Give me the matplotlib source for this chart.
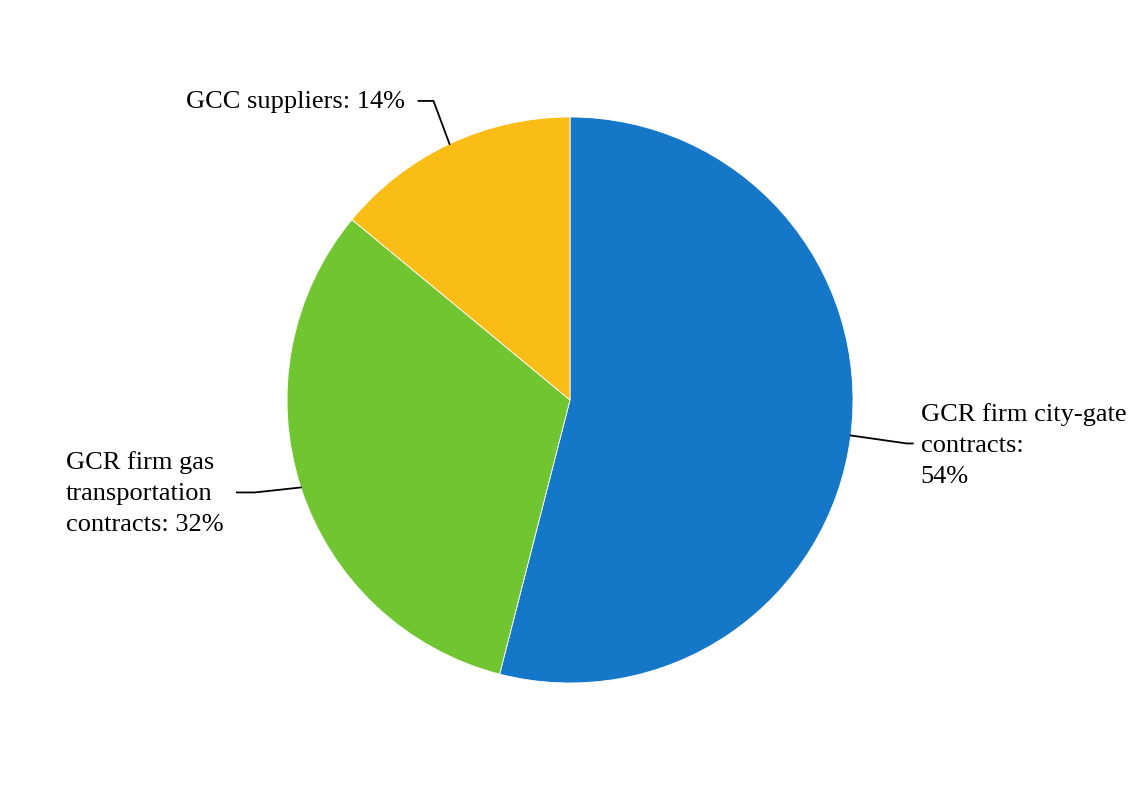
import numpy as np
import matplotlib
matplotlib.use('Agg')
import matplotlib.pyplot as plt

plt.rcParams['font.family'] = 'Liberation Serif'

# data
labels = ['GCR firm city-gate\ncontracts:\n54%',
          'GCR firm gas\ntransportation\ncontracts: 32%',
          'GCC suppliers: 14%']
shares = [54, 32, 14]
colors = ['#1577C7', '#70C531', '#F9BD16']

fig = plt.figure(figsize=(11.4, 8), dpi=100)
ax = fig.add_axes([0, 0, 1, 1])

cx, cy, r = 570, 400, 283
wedges, _ = ax.pie(shares, colors=colors, startangle=90, counterclock=False,
                   radius=r, center=(cx, cy), frame=True,
                   wedgeprops=dict(edgecolor='white', linewidth=0.6))
ax.set_xlim(0, 1140)
ax.set_ylim(0, 800)
ax.set_aspect('equal')
ax.axis('off')

# leader lines: (elbow dx, elbow dy, end dx, text dx, text dy, ha)
leaders = [
    (56, -8, 62, 70, -10, 'left'),
    (-46, -5, -64, -235, -6, 'left'),
    (-16, 43, -31, -45, 42, 'right'),
]

for w, lab, (edx, edy, ndx, tdx, tdy, ha) in zip(wedges, labels, leaders):
    ang = np.deg2rad((w.theta1 + w.theta2) / 2)
    ax0 = cx + r * np.cos(ang)
    ay0 = cy + r * np.sin(ang)
    ex, ey = ax0 + edx, ay0 + edy
    nx = ax0 + ndx
    ax.plot([ax0, ex, nx], [ay0, ey, ey], color='black', lw=1.3,
            solid_joinstyle='miter')
    ax.text(ax0 + tdx, ay0 + tdy, lab, ha=ha, va='center', fontsize=19,
            linespacing=1.55, multialignment='left')

fig.savefig('out.png', dpi=100, facecolor='white')
